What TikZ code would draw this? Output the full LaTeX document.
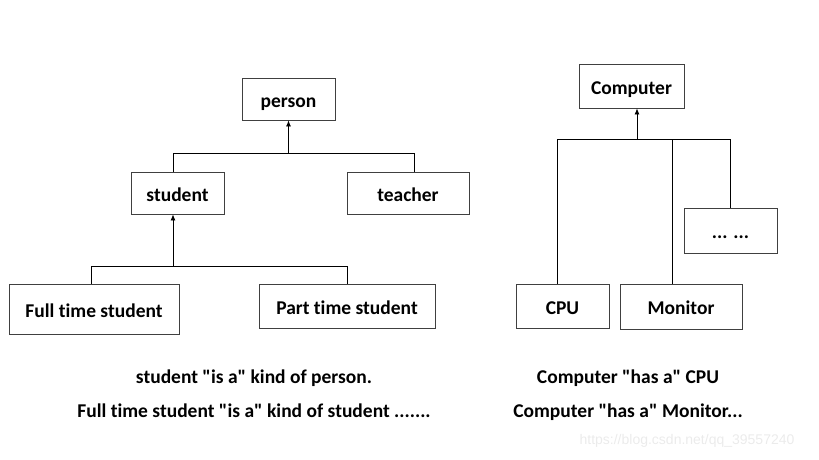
\documentclass[tikz,border=0pt]{standalone}
\usepackage{fontspec}
\setmainfont{Carlito}[Ligatures={TeXOff,NoCommon}]
\newfontfamily\markfont{Liberation Sans}
\usetikzlibrary{arrows.meta}

\begin{document}
\begin{tikzpicture}[x=1pt,y=-1pt,
		box/.style={draw=black!75,line width=0.8pt,fill=white,inner sep=0pt,text height=16pt,text depth=0pt,font=\bfseries\fontsize{19.5}{23}\selectfont},
		link/.style={line width=0.8pt},
		up/.style={link,-{Latex[length=6pt,width=5pt]}},
		caption/.style={anchor=base,font=\bfseries\fontsize{19.5}{23}\selectfont}]
	\useasboundingbox (0,0) rectangle (819,460);
	
	% is-a tree
	\node[box,minimum width=93pt,minimum height=42pt] (person) at (288.5,99) {person};
	\node[box,minimum width=93pt,minimum height=42pt] (student) at (177.5,193) {student};
	\node[box,minimum width=122pt,minimum height=42pt] (teacher) at (408,193) {teacher};
	\node[box,minimum width=170pt,minimum height=50pt] (fulltime) at (94,309) {Full time student};
	\node[box,minimum width=176pt,minimum height=44pt] (parttime) at (347,306) {Part time student};
	
	\coordinate (p) at (288.5,153);
	\coordinate (pl) at (173,153);
	\coordinate (pr) at (414,153);
	\draw[link] (pl) -- (pr);
	\draw[link] (pl) -- (pl |- student.north);
	\draw[link] (pr) -- (pr |- teacher.north);
	\draw[up] (p) -- (person.south);
	
	\coordinate (s) at (173,266);
	\coordinate (sl) at (91,266);
	\coordinate (sr) at (347,266);
	\draw[link] (sl) -- (sr);
	\draw[link] (sl) -- (sl |- fulltime.north);
	\draw[link] (sr) -- (sr |- parttime.north);
	\draw[up] (s) -- (s |- student.south);
	
	% has-a tree
	\node[box,minimum width=105pt,minimum height=44pt] (computer) at (631.5,86) {Computer};
	\node[box,minimum width=93pt,minimum height=44pt] (cpu) at (562.5,306) {CPU};
	\node[box,minimum width=122pt,minimum height=45pt] (monitor) at (681,306.5) {Monitor};
	\node[box,minimum width=93pt,minimum height=45pt] (dots) at (730.5,230.5) {... ...};
	
	\coordinate (c) at (637,139);
	\coordinate (cl) at (557,139);
	\coordinate (cm) at (672,139);
	\coordinate (cr) at (730,139);
	\draw[link] (cl) -- (cr);
	\draw[link] (cl) -- (cl |- cpu.north);
	\draw[link] (cm) -- (cm |- monitor.north);
	\draw[link] (cr) -- (cr |- dots.north);
	\draw[up] (c) -- (c |- computer.south);
	
	% captions
	\node[caption] (isa1) at (254,383) {student "is a" kind of person.};
	\node[caption] (isa2) at (254,417) {Full time student "is a" kind of student .......};
	\node[caption] (hasa1) at (628,383) {Computer "has a" CPU};
	\node[caption] (hasa2) at (628,417) {Computer "has a" Monitor...};
	\node[font=\markfont\fontsize{14}{16}\selectfont,text=black!8] (mark) at (687,441) {https://blog.csdn.net/qq\_39557240};
\end{tikzpicture}
\end{document}
